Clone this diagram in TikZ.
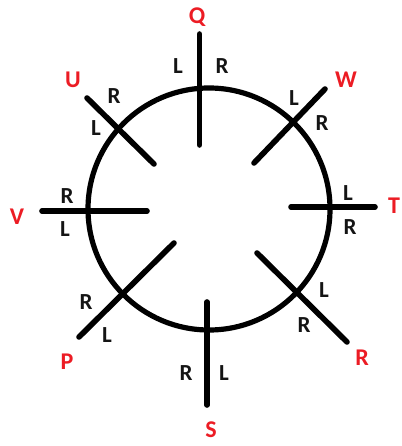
\documentclass[tikz,border=0pt]{standalone}
\usepackage{fontspec}
\setmainfont{Carlito}
\definecolor{lblred}{RGB}{236,28,36}
\definecolor{lblblk}{RGB}{20,20,20}
\begin{document}
\begin{tikzpicture}[x=1pt,y=-1pt,
  bar/.style={line width=5.6pt,line cap=round},
  ring/.style={line width=5.2pt},
  side/.style={font=\bfseries\fontsize{23}{23}\selectfont,text=lblblk,inner sep=0pt},
  seat/.style={font=\bfseries\fontsize{24}{24}\selectfont,text=lblred,inner sep=0pt}]
\useasboundingbox (0,0) rectangle (401,446);
\coordinate (O) at (209,209);
\draw[ring] (O) circle[radius=121];
% line ends
\coordinate (q1) at (199.5,34); \coordinate (q2) at (199.5,145);
\coordinate (w1) at (325,89);   \coordinate (w2) at (254,163);
\coordinate (t1) at (375,207);  \coordinate (t2) at (291,207);
\coordinate (r1) at (347,342);  \coordinate (r2) at (257,253);
\coordinate (s1) at (207,405);  \coordinate (s2) at (207,302);
\coordinate (p1) at (79,337);   \coordinate (p2) at (174,243);
\coordinate (v1) at (42,211);   \coordinate (v2) at (147,211);
\coordinate (u1) at (87,98);    \coordinate (u2) at (154,164);
\foreach \a in {q,w,t,r,s,p,v,u} \draw[bar] (\a1) -- (\a2);
% seat names
\node[seat] (nQ) at (197,17) {Q};
\node[seat] (nW) at (346,80) {W};
\node[seat] (nT) at (394,206) {T};
\node[seat] (nR) at (362,358) {R};
\node[seat] (nS) at (211,430) {S};
\node[seat] (nP) at (67,362) {P};
\node[seat] (nV) at (17,217) {V};
\node[seat] (nU) at (73,80) {U};
% sides
\node[side] (qL) at (178,66) {L};
\node[side] (qR) at (222,66) {R};
\node[side] (wL) at (294,98) {L};
\node[side] (wR) at (322,123) {R};
\node[side] (tL) at (348,193) {L};
\node[side] (tR) at (350,227) {R};
\node[side] (rL) at (324,290) {L};
\node[side] (rR) at (304,325) {R};
\node[side] (sR) at (186,373) {R};
\node[side] (sL) at (224,373) {L};
\node[side] (pR) at (86,302) {R};
\node[side] (pL) at (107,335) {L};
\node[side] (vR) at (67,196) {R};
\node[side] (vL) at (65,229) {L};
\node[side] (uR) at (114,96) {R};
\node[side] (uL) at (96,128) {L};
\end{tikzpicture}
\end{document}
